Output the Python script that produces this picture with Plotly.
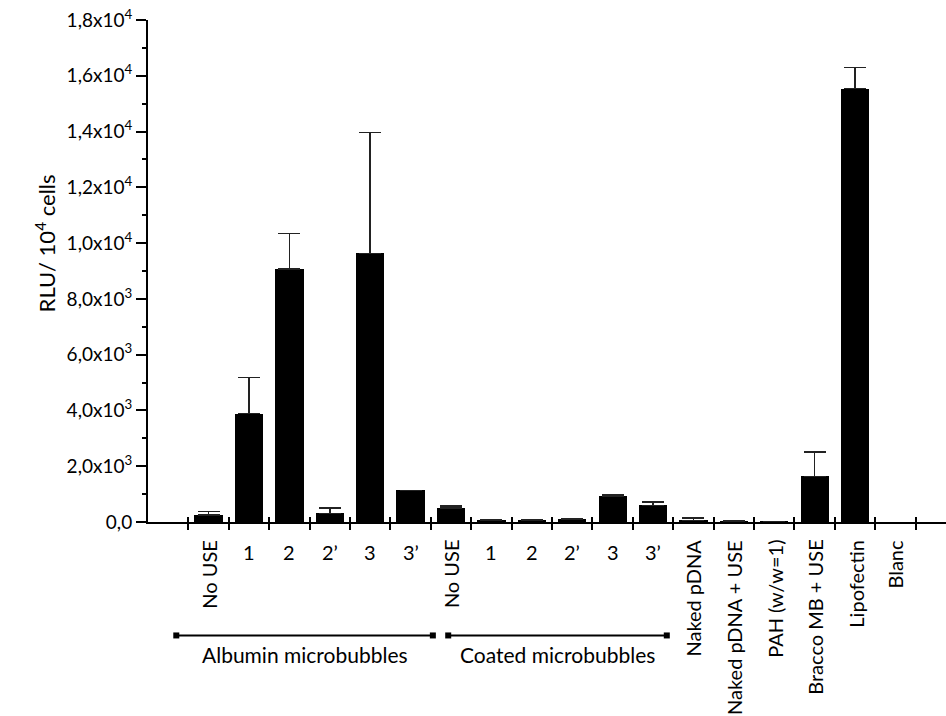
import plotly.graph_objects as go

# ---- data ----
categories = ["No USE", "1", "2", "2\u2019", "3", "3\u2019",
              "No USE", "1", "2", "2\u2019", "3", "3\u2019",
              "Naked pDNA", "Naked pDNA + USE", "PAH (w/w=1)",
              "Bracco MB + USE", "Lipofectin", "Blanc"]
values = [258, 3885, 9066, 305, 9630, 1131,
          500, 79, 75, 115, 916, 592,
          54, 30, 25, 1634, 15542, 0]
errors = [120, 1290, 1280, 190, 4330, None,
          80, None, None, None, 60, 130,
          95, None, None, 870, 754, None]
group_labels = ["Albumin microbubbles", "Coated microbubbles"]
group_first = [1, 7]
group_last = [6, 12]
y_tickvals = [0, 2000, 4000, 6000, 8000, 10000, 12000, 14000, 16000, 18000]
y_ticktext = ["0,0", "2,0x10<sup>3</sup>", "4,0x10<sup>3</sup>", "6,0x10<sup>3</sup>",
              "8,0x10<sup>3</sup>", "1,0x10<sup>4</sup>", "1,2x10<sup>4</sup>",
              "1,4x10<sup>4</sup>", "1,6x10<sup>4</sup>", "1,8x10<sup>4</sup>"]
y_title = "RLU/ 10<sup>4</sup> cells"

# ---- layout / style ----
FONT = "Lato"
positions = list(range(1, len(categories) + 1))
boundaries = [p - 0.5 for p in positions] + [positions[-1] + 0.5]
XR = [-0.5, 19.25]
# bracket overhang (in category units) relative to first/last category of each group
BR_LEFT = [0.8, 0.07]
BR_RIGHT = [0.55, 0.34]

# zero-valued bars are not drawn (avoid a hairline on the axis)
bar_y = [v if v > 0 else None for v in values]

fig = go.Figure()
fig.add_trace(go.Bar(
    x=positions, y=bar_y, width=0.7,
    marker=dict(color="black", line=dict(width=0)),
    error_y=dict(type="data", array=errors, symmetric=False,
                 arrayminus=[0] * len(errors),
                 color="#222222", thickness=1.5, width=11),
    showlegend=False, hoverinfo="skip"))
# invisible trace so the overlay axis (inner tick halves) is drawn
fig.add_trace(go.Scatter(x=positions, y=values, mode="none", xaxis="x2",
                         showlegend=False, hoverinfo="skip"))

fig.update_layout(
    width=946, height=716,
    margin=dict(l=148, r=0, t=20, b=194, pad=0),
    paper_bgcolor="white", plot_bgcolor="white",
    font=dict(family=FONT, size=18, color="black"),
    bargap=0,
    xaxis=dict(range=XR, showgrid=False, zeroline=False, showline=True,
               linecolor="black", linewidth=2,
               tickmode="array", tickvals=boundaries, showticklabels=False,
               ticks="outside", ticklen=6, tickwidth=2, tickcolor="black"),
    xaxis2=dict(range=XR, overlaying="x", side="bottom", showgrid=False,
                zeroline=False, showline=False,
                tickmode="array", tickvals=boundaries, showticklabels=False,
                ticks="inside", ticklen=5, tickwidth=2, tickcolor="black"),
    yaxis=dict(range=[0, 18000], showgrid=False, zeroline=False, showline=True,
               linecolor="black", linewidth=2,
               tickmode="array", tickvals=y_tickvals, ticktext=y_ticktext,
               ticks="outside", ticklen=10, tickwidth=2, tickcolor="black",
               minor=dict(ticks="outside", ticklen=4, tickwidth=2,
                          tickcolor="black", dtick=1000, tick0=0),
               tickfont=dict(family=FONT, size=19, color="black")),
)

annotations = []
for p, lab in zip(positions, categories):
    rotated = len(lab) > 2
    if rotated:
        annotations.append(dict(
            x=p, xref="x", y=-0.031, yref="paper",
            text=lab, showarrow=False, textangle=-90,
            xanchor="center", yanchor="top",
            font=dict(family=FONT, size=20, color="black")))
    else:
        annotations.append(dict(
            x=p, xref="x", y=-0.059, yref="paper",
            text=lab, showarrow=False,
            xanchor="center", yanchor="middle",
            font=dict(family=FONT, size=20, color="black")))

shapes = []
LINE_Y = -0.2260
for i, (lab, f, l) in enumerate(zip(group_labels, group_first, group_last)):
    x0 = f - BR_LEFT[i]
    x1 = l + BR_RIGHT[i]
    shapes.append(dict(type="line", xref="x", yref="paper", x0=x0, x1=x1,
                       y0=LINE_Y, y1=LINE_Y, line=dict(color="black", width=2)))
    for xe in (x0, x1):
        shapes.append(dict(type="rect", xref="x", yref="paper",
                           xsizemode="pixel", xanchor=xe, x0=-3, x1=3,
                           ysizemode="pixel", yanchor=LINE_Y, y0=-3, y1=3,
                           fillcolor="black", line=dict(width=0)))
    annotations.append(dict(
        x=(x0 + x1) / 2, xref="x", y=-0.264, yref="paper",
        text=lab, showarrow=False, xanchor="center", yanchor="middle",
        font=dict(family=FONT, size=21, color="black")))

annotations.append(dict(
    x=0, xref="paper", xshift=-103, y=0.555, yref="paper",
    text=y_title, showarrow=False, textangle=-90,
    xanchor="center", yanchor="middle",
    font=dict(family=FONT, size=22, color="black")))

fig.update_layout(annotations=annotations, shapes=shapes)
fig.write_html("out.html")
